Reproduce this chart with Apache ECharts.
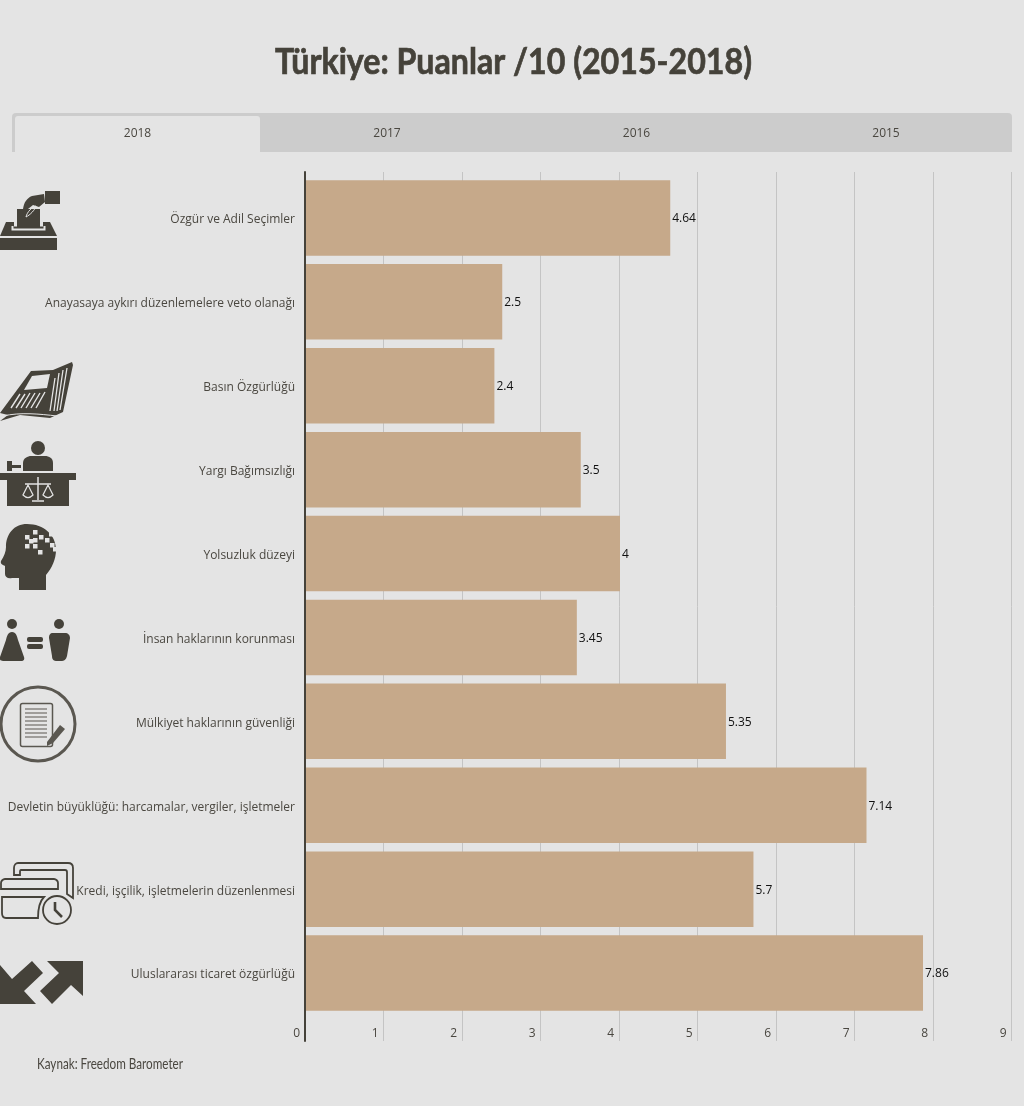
<!DOCTYPE html>
<html><head><meta charset="utf-8">
<style>html,body{margin:0;padding:0;background:#e4e4e4}#c{width:1024px;height:1106px}</style>
<script src="https://cdn.jsdelivr.net/npm/echarts@6/dist/echarts.min.js"></script>
</head><body><div id="c"></div>
<script>
const titleText = 'Türkiye: Puanlar /10 (2015-2018)';
const sourceText = 'Kaynak: Freedom Barometer';
const years = ['2018','2017','2016','2015'];
const categories = ['Özgür ve Adil Seçimler','Anayasaya aykırı düzenlemelere veto olanağı','Basın Özgürlüğü','Yargı Bağımsızlığı','Yolsuzluk düzeyi','İnsan haklarının korunması','Mülkiyet haklarının güvenliği','Devletin büyüklüğü: harcamalar, vergiler, işletmeler','Kredi, işçilik, işletmelerin düzenlenmesi','Uluslararası ticaret özgürlüğü'];
const values2018 = [4.64,2.5,2.4,3.5,4,3.45,5.35,7.14,5.7,7.86];

const DARK='#45423a', BG='#e4e4e4', TEXT='#4a4740';
const LBL='"Open Sans","Noto Sans",sans-serif', NARROW='Lato,"Liberation Sans",sans-serif';
let shapeId=0;
const pathType=d=>{const name='iconShape'+(shapeId++);echarts.graphic.registerShape(name,echarts.graphic.extendPath(d,{}));return name;};
const p=(d,fill)=>({type:pathType(d),silent:true,z:5,style:{fill:fill||DARK}});
const ln=(d,c,w)=>({type:pathType(d),silent:true,z:6,style:{fill:'none',stroke:c||BG,lineWidth:w||1}});
const circ=(cx,cy,r,style)=>({type:'circle',silent:true,z:5,shape:{cx,cy,r},style});
const rect=(x,y,w,h,fill,r)=>({type:'rect',silent:true,z:5,shape:{x,y,width:w,height:h,r:r||0},style:{fill:fill||DARK}});

const icons=[
 // ballot
 rect(45,191,15,13),rect(0,238,57,12),
 p('M0 236L6 222H50L57 236Z'),
 ln('M12.5 226V229.5H44.5V226','#e4e4e4',2),
 rect(14,222,29,4.5,BG),
 rect(17,209,23,19),
 p('M44 194L32 196C27 198 24 202 23 209H28L33 205L39 207L45 202Z'),
 ln('M26 217C27 212 32 207 36 206C35 210 30 215 26 217Z','#e4e4e4',1),
 // newspaper
 p('M0 413L31 371L53 370L72 362L73 365L63 412L50 418L20 415L0 421L8 415Z'),
 p('M24 390L32 376L50 374L47 388Z',BG),
 ln('M55 378L50 411M59 373L54 411M63 370L57 411M67 368L60 410','#e4e4e4',1.3),
 ln('M20 394L11 408M25 394L16 408M30 393L21 408M35 393L26 408M40 393L31 408M45 392L36 408','#e4e4e4',1.4),
 ln('M3 416C20 412 40 414 57 416','#e4e4e4',1),
 // judge
 circ(38,448,7,{fill:DARK}),
 p('M23 471V463C23 458 28 456 31 456H45C49 456 53 458 53 463V471Z'),
 rect(7,461,5,10),rect(12,465,9,3),
 rect(0,473,76,7),rect(7,480,62,26),
 ln('M38 477V500M32 501H44M25 484H51','#e4e4e4',1.5),
 ln('M28 485L23 495Q28 500 33 495ZM48 485L43 495Q48 500 53 495Z','#e4e4e4',1.2),
 // head
 p('M27 524C14 524 6 534 6 547C6 552 4 556 1 561C0 564 3 565 5 566V574C5 577 8 579 12 578L19 578V590H46V575C52 568 56 559 56 550C56 535 44 524 27 524Z'),
 ...[[33,530],[39,535],[33,538],[25,535],[29,539],[25,544],[33,544],[38,550],[45,538],[50,543],[53,547],[49,532]].map(a=>rect(a[0],a[1],4.5,4.5,BG)),
 // equality
 circ(12,624,5,{fill:DARK}),circ(59,624,5,{fill:DARK}),
 p('M12 632C16 632 17 636 18 640L24 657C25 660 23 661 21 661H3C1 661 -1 660 0 657L6 640C7 636 8 632 12 632Z'),
 p('M53 633H65C68 633 70 635 70 638L67 656C66 660 64 661 61 661H57C54 661 52 660 52 656L49 638C49 635 50 633 53 633Z'),
 rect(27,637,16,5,DARK,2),rect(27,644,16,5,DARK,2),
 // document
 circ(38,724,37,{fill:'none',stroke:'#5a5750',lineWidth:3}),
 {type:'rect',silent:true,z:5,shape:{x:20.5,y:703.5,width:32,height:43,r:2},style:{fill:'none',stroke:'#5a5750',lineWidth:1.5}},
 ln('M25 709H47M25 713H47M25 717H47M25 721H47M25 725H47M25 729H47M25 733H47M25 737H47','#5a5750',1.2),
 p('M47 742L60 725L65 729L53 743L47 746Z','#5a5750'),
 // cards
 ln('M14 875V868C14 865 16 863 18 863H68C71 863 73 865 73 868V898L67 894V872C67 871 66 870 65 870H21C20 870 20 871 20 872V875Z',DARK,1.8),
 ln('M1 889V883C1 881 3 879 5 879H54C56 879 58 881 58 883V889ZM2 897H44C40 901 38 908 38 918H6C3 918 2 916 2 913Z',DARK,1.8),
 circ(57,910,14,{fill:'none',stroke:DARK,lineWidth:1.8}),
 ln('M55 902V910L62 917',DARK,2.6),
 // arrows
 p('M32 961L43 973L24 991L36 1004H0V965L12 979Z'),
 p('M47 961H83V996L71 985L52 1004L40 991L59 973Z')
];

const tabW=249.5, tabs=[
 {type:'rect',silent:true,z:1,shape:{x:12,y:113,width:1000,height:39,r:[4,4,0,0]},style:{fill:'#cccccc'}},
 {type:'rect',silent:true,z:2,shape:{x:15,y:116,width:245,height:36,r:[3,3,0,0]},style:{fill:BG}},
 ...years.map((y,i)=>({type:'text',silent:true,z:3,x:137.5+i*tabW,y:134,style:{text:y,font:'12px '+LBL,fill:TEXT,align:'center',verticalAlign:'middle'}}))
];

const texts=[
 {type:'text',silent:true,z:3,x:513.5,y:62,scaleX:0.869,style:{text:titleText,font:'bold 37px '+NARROW,fill:DARK,stroke:DARK,lineWidth:0.7,align:'center',verticalAlign:'middle'}},
 {type:'text',silent:true,z:3,x:37,y:1063.5,scaleX:0.73,style:{text:sourceText,font:'16px '+NARROW,fill:TEXT,align:'left',verticalAlign:'middle'}}
];

const chart=echarts.init(document.getElementById('c'),null,{renderer:'canvas'});
chart.setOption({
 backgroundColor:BG,animation:false,
 grid:[
  {left:306,width:706.5,top:176,height:839},
  {left:305,width:706.5,top:172,height:869}
 ],
 xAxis:[
  {gridIndex:0,type:'value',min:0,max:9,interval:1,show:false},
  {gridIndex:1,type:'value',min:0,max:9,interval:1,
   axisLine:{show:false},axisTick:{show:false},
   splitLine:{show:true,lineStyle:{color:'#c4c4c4',width:1}},
   axisLabel:{inside:true,align:'right',margin:1,padding:[0,5,0,0],color:TEXT,fontSize:12,fontFamily:LBL,showMinLabel:true,showMaxLabel:true,hideOverlap:false}}
 ],
 yAxis:[
  {gridIndex:0,type:'category',data:categories,inverse:true,
   axisLine:{show:false},axisTick:{show:false},splitLine:{show:false},
   axisLabel:{color:TEXT,fontSize:12,fontFamily:LBL,margin:11,interval:0,verticalAlign:'top',lineHeight:4}},
  {gridIndex:1,type:'value',min:0,max:1,interval:1,
   axisLine:{show:true,onZero:false,lineStyle:{color:DARK,width:2}},axisTick:{show:false},axisLabel:{show:false},splitLine:{show:false},z:10}
 ],
 series:[{
  type:'bar',xAxisIndex:0,yAxisIndex:0,data:values2018,barWidth:75.5,z:3,
  itemStyle:{color:'#c6a98a'},
  label:{show:true,position:'right',distance:2,offset:[0,1],color:'#111',fontSize:12,fontFamily:LBL}
 }],
 graphic:{elements:[...texts,...tabs,...icons]}
});
</script></body></html>
